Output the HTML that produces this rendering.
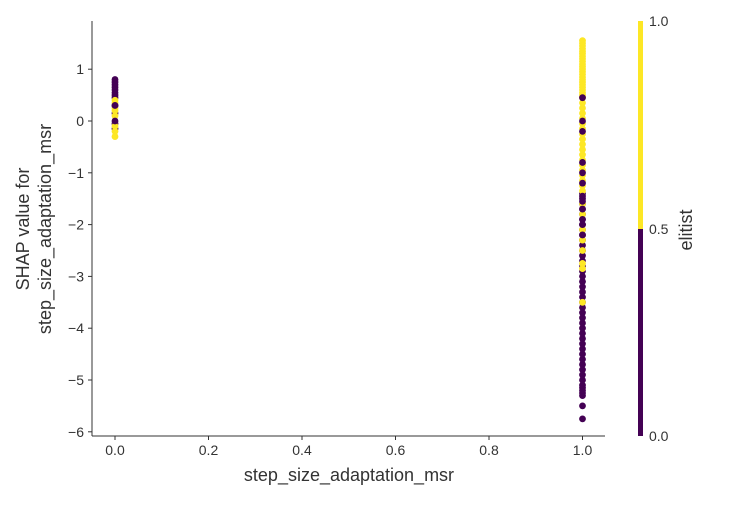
<!DOCTYPE html>
<html><head><meta charset="utf-8"><style>
body{margin:0;background:#fff;}
svg text{font-family:"Liberation Sans","DejaVu Sans",sans-serif;fill:#333;}
</style></head><body>
<svg id="chart" width="750" height="500" xmlns="http://www.w3.org/2000/svg">
<g id="points"></g>
<g id="axes"></g>
<g>
<rect x="638" y="21" width="5" height="208" fill="#fde725"/>
<rect x="638" y="229" width="5" height="207" fill="#440154"/>
<text x="649" y="26" font-size="14" fill="#000">1.0</text>
<text x="649" y="234" font-size="14" fill="#000">0.5</text>
<text x="649" y="441" font-size="14" fill="#000">0.0</text>
<text transform="translate(692,230) rotate(-90)" text-anchor="middle" font-size="18" fill="#000">elitist</text>
</g>
<text x="349" y="481" text-anchor="middle" font-size="18">step_size_adaptation_msr</text>
<text transform="translate(29,229) rotate(-90)" text-anchor="middle" font-size="18">SHAP value for</text>
<text transform="translate(51,229) rotate(-90)" text-anchor="middle" font-size="18">step_size_adaptation_msr</text>
</svg>
<script>
const xTicks=[0,0.2,0.4,0.6,0.8,1.0];
const xTickLabels=["0.0","0.2","0.4","0.6","0.8","1.0"];
const yTicks=[1,0,-1,-2,-3,-4,-5,-6];
const yTickLabels=["1","0","−1","−2","−3","−4","−5","−6"];
const purpleBase1=[-5.3,-5.25,-5.2,-5.15,-5.1,-5.0,-4.9,-4.8,-4.7,-4.6,-4.5,-4.4,-4.3,-4.2,-4.1,-4.0,-3.9,-3.8,-3.7,-3.6,-3.5,-3.4,-3.3,-3.2,-3.1,-3.0,-2.9,-2.8,-2.7,-2.6,-2.5,-2.4,-2.3,-2.2,-2.1,-2.0,-1.9,-1.8,-1.7,-1.6,-1.5,-1.4];
const yellow1=[1.55,1.5,1.45,1.4,1.35,1.3,1.25,1.2,1.15,1.1,1.05,1.0,0.95,0.9,0.85,0.8,0.75,0.7,0.65,0.6,0.55,0.5,0.45,0.35,0.25,0.15,0.05,-0.05,-0.15,-0.25,-0.35,-0.45,-0.55,-0.65,-0.75,-0.85,-0.95,-1.05,-1.15,-1.25,-1.35,-1.6,-1.8,-2.1,-2.3,-2.5,-2.75,-2.85,-3.5];
const purpleSpots1=[0.45,0.0,-0.2,-0.8,-1.0,-1.2,-1.45,-1.55,-1.7,-1.9,-2.0,-2.2,-5.5,-5.75];
const purple0=[0.8,0.75,0.7,0.65,0.6,0.55,0.5,0.45,0.3,0.15,-0.05,-0.15];
const yellow0=[0.4,0.35,0.25,0.2,0.1,-0.1,-0.2,-0.3];
const purpleSpots0=[0.0,0.3];
const X0=92,X1=605,Y0=21,Y1=436;
const xs=v=>115+v*467.5;
const ys=v=>121-v*51.8;
const NS="http://www.w3.org/2000/svg";
const pts=document.getElementById('points');
function dots(arr,xv,color,name){
  arr.forEach(v=>{
    const c=document.createElementNS(NS,'circle');
    c.setAttribute('cx',xs(xv));c.setAttribute('cy',ys(v));c.setAttribute('r',3.4);
    c.setAttribute('fill',color);
    
    
    pts.appendChild(c);
  });
}
dots(purpleBase1,1,'#440154','point-elitist-0');
dots(purple0,0,'#440154','point-elitist-0');
dots(yellow1,1,'#fde725','point-elitist-1');
dots(yellow0,0,'#fde725','point-elitist-1');
dots(purpleSpots1,1,'#440154','point-elitist-0');
dots(purpleSpots0,0,'#440154','point-elitist-0');
const ax=document.getElementById('axes');
function el(tag,attrs,text){const e=document.createElementNS(NS,tag);for(const k in attrs)e.setAttribute(k,attrs[k]);if(text!==undefined)e.textContent=text;ax.appendChild(e);return e;}
const yl=el('line',{x1:X0,y1:Y0,x2:X0,y2:Y1,stroke:'#333','stroke-width':1});


const xl=el('line',{x1:X0,y1:Y1,x2:X1,y2:Y1,stroke:'#333','stroke-width':1});


xTicks.forEach((t,i)=>{
  const tk=el('line',{x1:xs(t),y1:Y1,x2:xs(t),y2:Y1+4,stroke:'#333'});
  
  
  const tl=el('text',{x:xs(t),y:Y1+19,'text-anchor':'middle','font-size':14},xTickLabels[i]);
  
  
});
yTicks.forEach((t,i)=>{
  const tk=el('line',{x1:X0-4,y1:ys(t),x2:X0,y2:ys(t),stroke:'#333'});
  
  
  const tl=el('text',{x:X0-8,y:ys(t)+5,'text-anchor':'end','font-size':14},yTickLabels[i]);
  
  
});
</script>
</body></html>
